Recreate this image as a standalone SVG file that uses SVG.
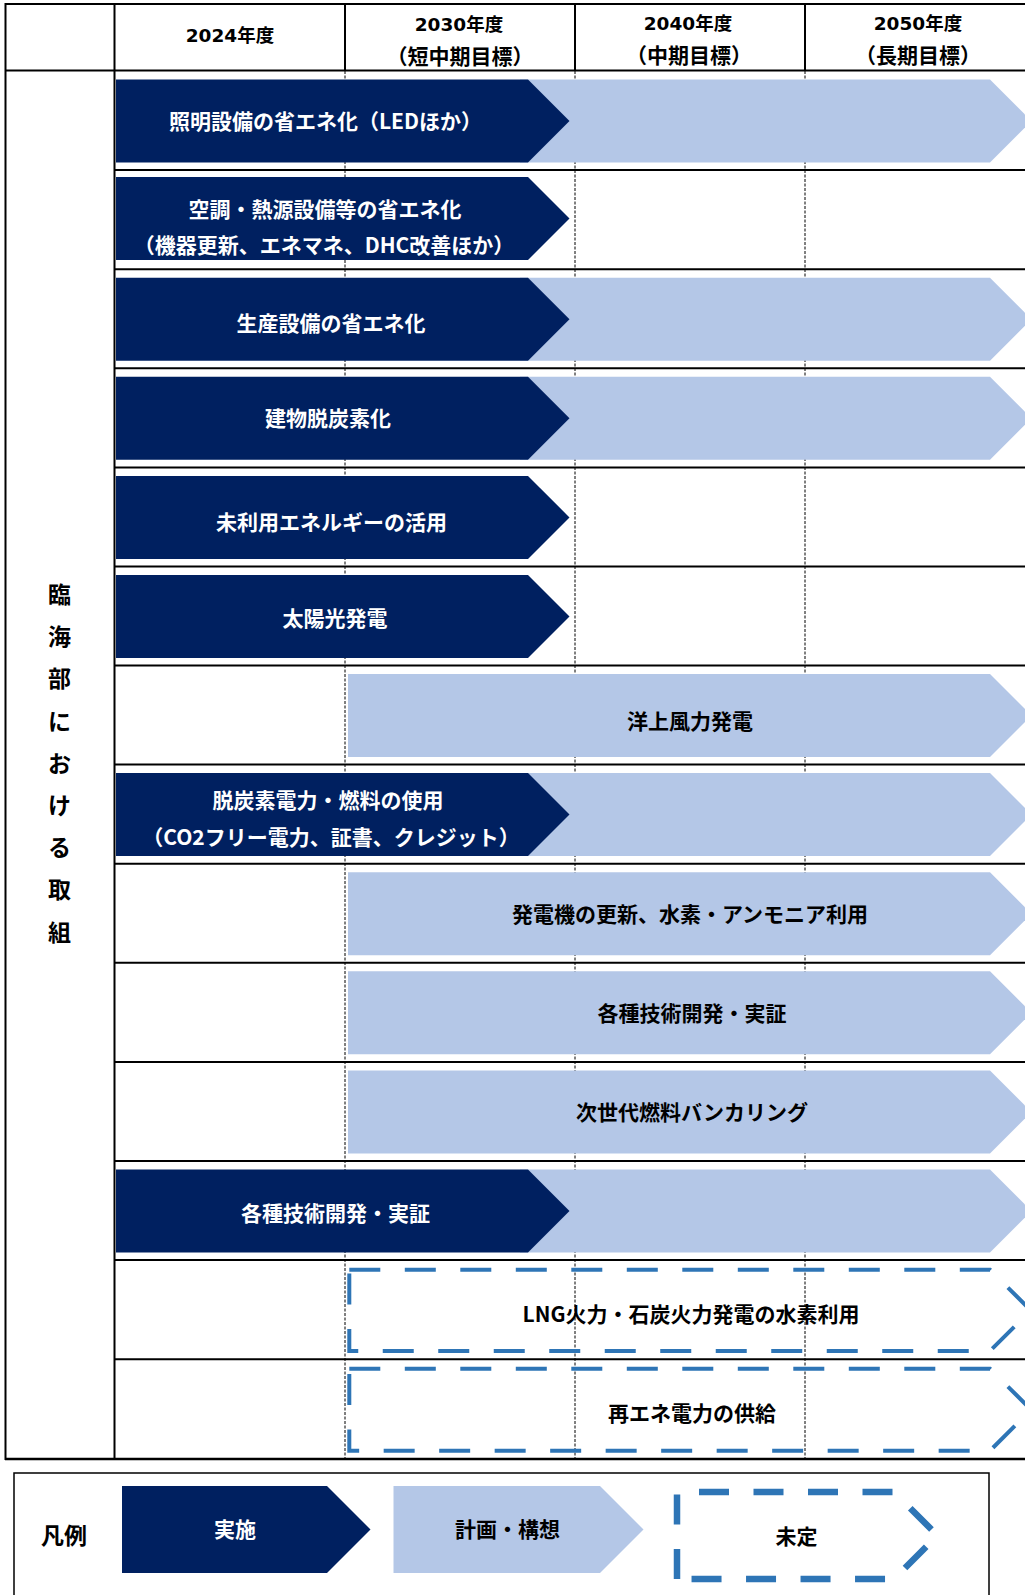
<svg xmlns="http://www.w3.org/2000/svg" width="1025" height="1595" viewBox="0 0 1025 1595">
<style>
.dk{fill:#002060}
.lt{fill:#B4C7E7}
.ud{fill:none;stroke:#2E75B6;stroke-width:4;stroke-dasharray:31 24.5}
.udl{fill:none;stroke:#2E75B6;stroke-width:6.5;stroke-dasharray:30 24.5}
.t{font-family:"Noto Sans CJK JP","Noto Sans",sans-serif;font-weight:bold;font-size:21px;text-anchor:middle}
.h{font-family:"DejaVu Sans","Noto Sans CJK JP",sans-serif;font-weight:bold;font-size:18.5px;text-anchor:middle;fill:#000}
.h2{font-family:"Noto Sans CJK JP",sans-serif;font-weight:bold;font-size:21px;text-anchor:middle;fill:#000}
.w{fill:#fff}
.k{fill:#000}
.sl{stroke:#000;stroke-width:2;fill:none}
.dl{stroke:#000;stroke-width:1;stroke-dasharray:3 1.5;fill:none}
</style>
<rect width="1025" height="1595" fill="#fff"/>
<g id="grid">
<line class="dl" x1="345" y1="71" x2="345" y2="1459"/>
<line class="dl" x1="575" y1="71" x2="575" y2="1459"/>
<line class="dl" x1="805" y1="71" x2="805" y2="1459"/>
<line class="sl" x1="5" y1="4" x2="1025" y2="4"/>
<line class="sl" x1="5" y1="70.5" x2="1025" y2="70.5"/>
<line class="sl" x1="5.5" y1="3" x2="5.5" y2="1460"/>
<line class="sl" x1="114.5" y1="3" x2="114.5" y2="1460"/>
<line class="sl" x1="345" y1="3" x2="345" y2="71"/>
<line class="sl" x1="575" y1="3" x2="575" y2="71"/>
<line class="sl" x1="805" y1="3" x2="805" y2="71"/>
<g class="sl">
<line x1="114" y1="170" x2="1025" y2="170"/>
<line x1="114" y1="269.3" x2="1025" y2="269.3"/>
<line x1="114" y1="368.3" x2="1025" y2="368.3"/>
<line x1="114" y1="467.4" x2="1025" y2="467.4"/>
<line x1="114" y1="566.5" x2="1025" y2="566.5"/>
<line x1="114" y1="665.5" x2="1025" y2="665.5"/>
<line x1="114" y1="764.6" x2="1025" y2="764.6"/>
<line x1="114" y1="863.7" x2="1025" y2="863.7"/>
<line x1="114" y1="962.8" x2="1025" y2="962.8"/>
<line x1="114" y1="1061.9" x2="1025" y2="1061.9"/>
<line x1="114" y1="1161" x2="1025" y2="1161"/>
<line x1="114" y1="1260.1" x2="1025" y2="1260.1"/>
<line x1="114" y1="1359.2" x2="1025" y2="1359.2"/>
</g>
<line x1="5" y1="1459" x2="1025" y2="1459" stroke="#000" stroke-width="2.5"/>
</g>
<g id="header">
<text class="h" x="230" y="41.7">2024年度</text>
<text class="h" x="459" y="30.7">2030年度</text>
<text class="h2" x="460" y="63.5">（短中期目標）</text>
<text class="h" x="688" y="30.3">2040年度</text>
<text class="h2" x="689" y="63">（中期目標）</text>
<text class="h" x="918" y="30.3">2050年度</text>
<text class="h2" x="918" y="63">（長期目標）</text>
</g>
<g id="side-label" class="t k" style="font-size:23px">
<text x="59.5" y="603">臨</text>
<text x="59.5" y="645.2">海</text>
<text x="59.5" y="687.4">部</text>
<text x="59.5" y="729.6">に</text>
<text x="59.5" y="771.8">お</text>
<text x="59.5" y="814">け</text>
<text x="59.5" y="856.2">る</text>
<text x="59.5" y="898.4">取</text>
<text x="59.5" y="940.6">組</text>
</g>
<g id="row1">
<polygon class="lt" points="520,79.5 990,79.5 1031.5,121 990,162.5 520,162.5"/>
<polygon class="dk" points="116,79.5 528,79.5 569.5,121 528,162.5 116,162.5"/>
<text class="t w" x="325.5" y="129">照明設備の省エネ化（LEDほか）</text>
</g>
<g id="row2">
<polygon class="dk" points="116,177 528,177 569.5,218.5 528,260 116,260"/>
<text class="t w" x="325" y="216.5">空調・熱源設備等の省エネ化</text>
<text class="t w" x="324" y="253">（機器更新、エネマネ、DHC改善ほか）</text>
</g>
<g id="row3">
<polygon class="lt" points="520,277.8 990,277.8 1031.5,319.3 990,360.8 520,360.8"/>
<polygon class="dk" points="116,277.8 528,277.8 569.5,319.3 528,360.8 116,360.8"/>
<text class="t w" x="331" y="330.5">生産設備の省エネ化</text>
</g>
<g id="row4">
<polygon class="lt" points="520,376.8 990,376.8 1031.5,418.3 990,459.8 520,459.8"/>
<polygon class="dk" points="116,376.8 528,376.8 569.5,418.3 528,459.8 116,459.8"/>
<text class="t w" x="328" y="426">建物脱炭素化</text>
</g>
<g id="row5">
<polygon class="dk" points="116,475.9 528,475.9 569.5,517.4 528,558.9 116,558.9"/>
<text class="t w" x="331.5" y="529.5">未利用エネルギーの活用</text>
</g>
<g id="row6">
<polygon class="dk" points="116,575 528,575 569.5,616.5 528,658 116,658"/>
<text class="t w" x="335" y="626">太陽光発電</text>
</g>
<g id="row7">
<polygon class="lt" points="348,674 990,674 1031.5,715.5 990,757 348,757"/>
<text class="t k" x="690" y="729">洋上風力発電</text>
</g>
<g id="row8">
<polygon class="lt" points="520,773.1 990,773.1 1031.5,814.6 990,856.1 520,856.1"/>
<polygon class="dk" points="116,773.1 528,773.1 569.5,814.6 528,856.1 116,856.1"/>
<text class="t w" x="328" y="808">脱炭素電力・燃料の使用</text>
<text class="t w" x="331" y="844.5">（CO2フリー電力、証書、クレジット）</text>
</g>
<g id="row9">
<polygon class="lt" points="348,872.2 990,872.2 1031.5,913.7 990,955.2 348,955.2"/>
<text class="t k" x="690" y="922">発電機の更新、水素・アンモニア利用</text>
</g>
<g id="row10">
<polygon class="lt" points="348,971.3 990,971.3 1031.5,1012.8 990,1054.3 348,1054.3"/>
<text class="t k" x="692" y="1021">各種技術開発・実証</text>
</g>
<g id="row11">
<polygon class="lt" points="348,1070.4 990,1070.4 1031.5,1111.9 990,1153.4 348,1153.4"/>
<text class="t k" x="692" y="1119.5">次世代燃料バンカリング</text>
</g>
<g id="row12">
<polygon class="lt" points="520,1169.5 990,1169.5 1031.5,1211 990,1252.5 520,1252.5"/>
<polygon class="dk" points="116,1169.5 528,1169.5 569.5,1211 528,1252.5 116,1252.5"/>
<text class="t w" x="335.5" y="1221">各種技術開発・実証</text>
</g>
<g id="row13">
<path class="ud" d="M349.3,1269.7 L990,1269.7 L1030.7,1310.35 L990,1351 L349.3,1351 Z"/>
<text class="t k" x="691" y="1322">LNG火力・石炭火力発電の水素利用</text>
</g>
<g id="row14">
<path class="ud" d="M349.3,1368.7 L990,1368.7 L1031,1409.7 L990,1450.7 L349.3,1450.7 Z"/>
<text class="t k" x="692" y="1421">再エネ電力の供給</text>
</g>
<g id="legend">
<rect x="14" y="1473" width="975" height="140" fill="none" stroke="#000" stroke-width="1.5"/>
<text class="t k" x="64" y="1544" style="font-size:23px">凡例</text>
<g id="legend-done">
<polygon class="dk" points="122,1486 327,1486 370.5,1529.5 327,1573 122,1573"/>
<text class="t w" x="235" y="1537">実施</text>
</g>
<g id="legend-plan">
<polygon class="lt" points="393.5,1486 600,1486 643.5,1529.5 600,1573 393.5,1573"/>
<text class="t k" x="507.5" y="1536.5">計画・構想</text>
</g>
<g id="legend-undecided">
<path class="udl" d="M677,1579 L677,1492 L894,1492 L937.5,1535.5 L894,1579 Z"/>
<text class="t k" x="796.5" y="1544">未定</text>
</g>
</g>
</svg>
